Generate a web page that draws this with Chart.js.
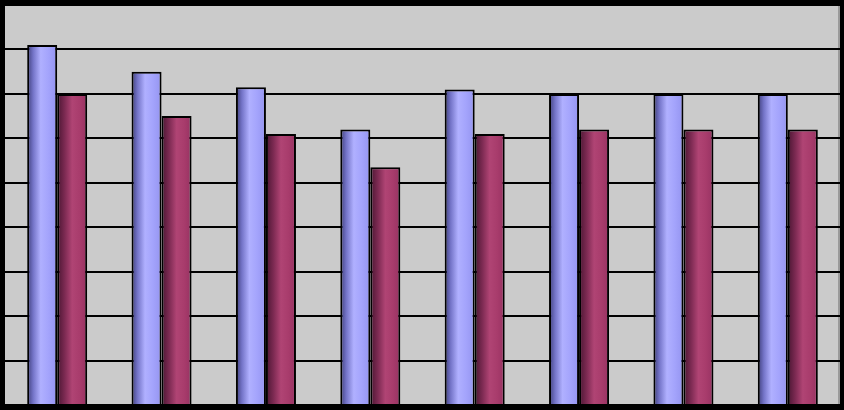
<!DOCTYPE html>
<html lang="en">
<head>
  <meta charset="UTF-8">
  <title>Bar Chart</title>
  <script src="https://cdn.jsdelivr.net/npm/chart.js"></script>
  <style>
    html, body { margin: 0; padding: 0; background: #000; }
    canvas { display: block; }
  </style>
</head>
<body>
  <canvas id="barChart" width="844" height="410"></canvas>

  <script>
    // Categories (no labels are shown in the picture)
    const categories = ['1', '2', '3', '4', '5', '6', '7', '8'];
    const seriesA = [8.1, 7.5, 7.15, 6.2, 7.1, 7.0, 7.0, 7.0];
    const seriesB = [7.0, 6.5, 6.1, 5.35, 6.1, 6.2, 6.2, 6.2];
    const yMin = 0;
    const yMax = 9;
    const yStep = 1;

    const CAT_PCT = 0.575;

    // cylinder-like shading, built from the category scale
    function shade(stops) {
      return function (ctx) {
        const chart = ctx.chart;
        const x = chart.scales.x;
        const area = chart.chartArea;
        if (!x || !area) return stops[stops.length - 1][1];
        const center = x.getPixelForTick(ctx.dataIndex);
        const w = (area.right - area.left) / categories.length * CAT_PCT / 2;
        const left = ctx.datasetIndex === 0 ? center - w : center;
        const g = chart.ctx.createLinearGradient(left, 0, left + w, 0);
        stops.forEach(s => g.addColorStop(s[0], s[1]));
        return g;
      };
    }

    const plotBg = {
      id: 'plotBg',
      beforeDraw(chart) {
        const { ctx, chartArea: a } = chart;
        ctx.save();
        ctx.fillStyle = '#cbcbcb';
        ctx.fillRect(a.left, a.top, a.right - a.left, a.bottom - a.top);
        ctx.fillStyle = '#9a9a9a';
        ctx.fillRect(a.right - 2, a.top, 2, a.bottom - a.top);
        ctx.restore();
      }
    };

    const ctx = document.getElementById('barChart').getContext('2d');
    const chart = new Chart(ctx, {
      type: 'bar',
      data: {
        labels: categories,
        datasets: [
          {
            data: seriesA,
            backgroundColor: shade([[0, '#3e3e7a'], [0.2, '#7474c8'], [0.45, '#b0b0ff'], [0.7, '#a4a4fc'], [1, '#9494f0']]),
            borderColor: '#000',
            borderWidth: 2,
            borderSkipped: 'bottom'
          },
          {
            data: seriesB,
            backgroundColor: shade([[0, '#4a1632'], [0.25, '#7c2a52'], [0.5, '#b04474'], [0.75, '#a83c6c'], [1, '#973262']]),
            borderColor: '#000',
            borderWidth: 2,
            borderSkipped: 'bottom'
          }
        ]
      },
      options: {
        responsive: false,
        animation: false,
        layout: { padding: { left: 5, right: 4, top: 5, bottom: 5 } },
        plugins: { legend: { display: false }, tooltip: { enabled: false } },
        datasets: { bar: { categoryPercentage: CAT_PCT, barPercentage: 1 } },
        scales: {
          x: {
            grid: { display: false },
            border: { display: false },
            ticks: { display: false },
            afterFit(scale) { scale.height = 0; }
          },
          y: {
            min: yMin,
            max: yMax,
            ticks: { display: false, stepSize: yStep },
            grid: { color: '#000', lineWidth: 2, drawTicks: false },
            border: { display: false },
            afterFit(scale) { scale.width = 0; }
          }
        }
      },
      plugins: [plotBg]
    });
  </script>
</body>
</html>
